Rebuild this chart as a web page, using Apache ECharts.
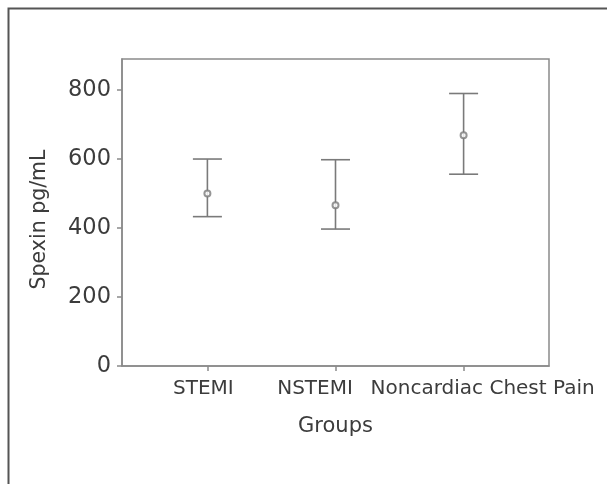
<!DOCTYPE html>
<html>
<head>
<meta charset="utf-8">
<script src="https://cdn.jsdelivr.net/npm/echarts@6/dist/echarts.min.js"></script>
<style>html,body{margin:0;padding:0;background:#fff;}#c{width:607px;height:484px;}</style>
</head>
<body>
<div id="c"></div>
<script>
const categories = ['STEMI', 'NSTEMI', 'Noncardiac Chest Pain'];
const means = [500, 466, 669];
const lower = [433, 397, 556];
const upper = [600, 598, 790];
const yTicks = [0, 200, 400, 600, 800];
const catPos = [1, 2, 3];

const FONT = 'DejaVu Sans';
const TXT = '#3c3c3c';
const AX = '#8a8a8a';
const BAR = '#7a7a7a';
// label nudges so the long labels do not collide (as in the original figure)
const labelStyles = ['s0', 's1', 's2'];

const chart = echarts.init(document.getElementById('c'));
chart.setOption({
  backgroundColor: '#fff',
  animation: false,
  grid: { left: 122, right: 58, top: 59, bottom: 118, show: true, borderColor: AX, borderWidth: 1.5, backgroundColor: 'transparent' },
  xAxis: {
    type: 'value', min: 1/3, max: 11/3,
    splitLine: { show: false },
    axisLine: { show: true, lineStyle: { color: AX, width: 1.5 } },
    axisTick: { show: true, length: 5, lineStyle: { color: AX, width: 1.5 }, customValues: catPos },
    axisLabel: {
      customValues: catPos, hideOverlap: false,
      formatter: v => { const i = Math.round(v) - 1; return '{' + labelStyles[i] + '|' + categories[i] + '}'; },
      color: TXT, fontFamily: FONT, fontSize: 20, margin: 13,
      rich: {
        s0: { color: TXT, fontFamily: FONT, fontSize: 20, padding: [0, 8, 0, 0] },
        s1: { color: TXT, fontFamily: FONT, fontSize: 20, padding: [0, 41, 0, 0] },
        s2: { color: TXT, fontFamily: FONT, fontSize: 20, padding: [0, 0, 0, 38] }
      }
    },
    name: 'Groups', nameLocation: 'middle', nameGap: 50,
    nameTextStyle: { color: TXT, fontFamily: FONT, fontSize: 21 }
  },
  yAxis: {
    type: 'value', min: 0, max: 890,
    splitLine: { show: false },
    axisLine: { show: true, lineStyle: { color: AX, width: 1.5 } },
    axisTick: { show: true, length: 5, lineStyle: { color: AX, width: 1.5 }, customValues: yTicks },
    axisLabel: { customValues: yTicks, color: TXT, fontFamily: FONT, fontSize: 22.5, margin: 11 }
  },
  graphic: [
    { type: 'polyline', shape: { points: [[8.5, 484], [8.5, 8.5], [607, 8.5]] }, style: { stroke: '#555', lineWidth: 2, fill: null }, silent: true },
    { type: 'text', x: 40, y: 219.5, rotation: Math.PI / 2, style: { text: 'Spexin pg/mL', fill: TXT, font: '20.5px "DejaVu Sans"', align: 'center', verticalAlign: 'middle' } }
  ],
  series: [
    {
      type: 'custom',
      data: catPos.map((p, i) => [p, lower[i], upper[i]]),
      renderItem: function (params, api) {
        const x = api.value(0);
        const lo = api.coord([x, api.value(1)]);
        const hi = api.coord([x, api.value(2)]);
        const hw = 14.5;
        const st = { stroke: BAR, lineWidth: 1.6 };
        return {
          type: 'group',
          children: [
            { type: 'line', shape: { x1: lo[0], y1: lo[1], x2: hi[0], y2: hi[1] }, style: st },
            { type: 'line', shape: { x1: lo[0] - hw, y1: lo[1], x2: lo[0] + hw, y2: lo[1] }, style: st },
            { type: 'line', shape: { x1: hi[0] - hw, y1: hi[1], x2: hi[0] + hw, y2: hi[1] }, style: st }
          ]
        };
      },
      z: 2
    },
    {
      type: 'scatter',
      data: catPos.map((p, i) => [p, means[i]]),
      symbol: 'emptyCircle', symbolSize: 6,
      itemStyle: { color: BAR, borderColor: BAR, borderWidth: 1.3 },
      z: 3
    }
  ]
});
</script>
</body>
</html>
